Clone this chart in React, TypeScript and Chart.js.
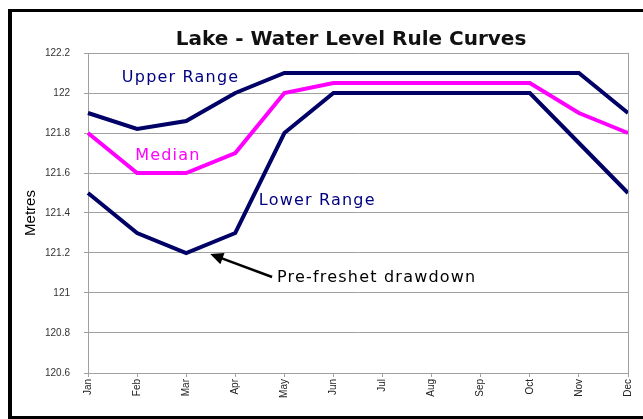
import React, { useEffect, useRef } from "react";
import { Chart, registerables } from "chart.js";

Chart.register(...registerables);

const months = ["Jan", "Feb", "Mar", "Apr", "May", "Jun", "Jul", "Aug", "Sep", "Oct", "Nov", "Dec"];
const upperRange = [121.9, 121.82, 121.86, 122.0, 122.1, 122.1, 122.1, 122.1, 122.1, 122.1, 122.1, 121.9];
const median = [121.8, 121.6, 121.6, 121.7, 122.0, 122.05, 122.05, 122.05, 122.05, 122.05, 121.9, 121.8];
const lowerRange = [121.5, 121.3, 121.2, 121.3, 121.8, 122.0, 122.0, 122.0, 122.0, 122.0, 121.75, 121.5];
const yTicks = [120.6, 120.8, 121.0, 121.2, 121.4, 121.6, 121.8, 122.0, 122.2];

const TITLE = "Lake - Water Level Rule Curves";
const NAVY = "#000066";
const MAGENTA = "#ff00ff";

// annotation anchors in data space: [monthIndex, value]
const labels = [
  { text: "Upper Range", at: [0.69, 122.055], color: "#000080" },
  { text: "Median", at: [0.96, 121.665], color: MAGENTA },
  { text: "Lower Range", at: [3.48, 121.44], color: "#000080" },
  { text: "Pre-freshet drawdown", at: [3.85, 121.055], color: "#000000" },
];
const arrowFrom = [3.75, 121.08];
const arrowTo = [2.49, 121.195];

const decor = {
  id: "decor",
  beforeDraw(chart: any) {
    const { ctx, width, height } = chart;
    ctx.save();
    ctx.fillStyle = "#ffffff";
    ctx.fillRect(0, 0, width, height);
    ctx.fillStyle = "#000000";
    ctx.fillRect(8, 9, width - 8, 3);
    ctx.fillRect(8, 9, 4, height - 9);
    ctx.fillRect(8, 416, width - 8, 3);
    ctx.restore();
  },
  afterDraw(chart: any) {
    const { ctx, chartArea } = chart;
    const xs = chart.scales.x;
    const ys = chart.scales.y;
    ctx.save();
    ctx.strokeStyle = "#a0a0a0";
    ctx.lineWidth = 1;
    ctx.beginPath();
    ctx.moveTo(Math.round(chartArea.right) + 0.5, chartArea.top);
    ctx.lineTo(Math.round(chartArea.right) + 0.5, chartArea.bottom);
    ctx.stroke();

    // title
    ctx.fillStyle = "#111111";
    ctx.font = "bold 20px 'DejaVu Sans'";
    ctx.textAlign = "center";
    ctx.textBaseline = "alphabetic";
    ctx.fillText(TITLE, 351, 45);

    // annotations
    ctx.font = "16px 'DejaVu Sans'";
    ctx.textAlign = "left";
    (ctx as any).letterSpacing = "1.2px";
    for (const l of labels) {
      ctx.fillStyle = l.color;
      ctx.fillText(l.text, xs.getPixelForValue(l.at[0]), ys.getPixelForValue(l.at[1]));
    }
    (ctx as any).letterSpacing = "0px";

    // arrow
    const x1 = xs.getPixelForValue(arrowFrom[0]);
    const y1 = ys.getPixelForValue(arrowFrom[1]);
    const x2 = xs.getPixelForValue(arrowTo[0]);
    const y2 = ys.getPixelForValue(arrowTo[1]);
    const ang = Math.atan2(y2 - y1, x2 - x1);
    const hl = 13;
    const hw = 6;
    ctx.strokeStyle = "#000000";
    ctx.lineWidth = 2.5;
    ctx.beginPath();
    ctx.moveTo(x1, y1);
    ctx.lineTo(x2 - Math.cos(ang) * (hl - 2), y2 - Math.sin(ang) * (hl - 2));
    ctx.stroke();
    ctx.fillStyle = "#000000";
    ctx.beginPath();
    ctx.moveTo(x2, y2);
    const bx = x2 - Math.cos(ang) * hl;
    const by = y2 - Math.sin(ang) * hl;
    ctx.lineTo(bx + Math.sin(ang) * hw, by - Math.cos(ang) * hw);
    ctx.lineTo(bx - Math.sin(ang) * hw, by + Math.cos(ang) * hw);
    ctx.closePath();
    ctx.fill();
    ctx.restore();
  },
};

export default function App() {
  const ref = useRef<HTMLCanvasElement>(null);
  useEffect(() => {
    document.body.style.margin = "0";
    const canvas = ref.current!;
    const chart = new Chart(canvas, {
      type: "line",
      data: {
        labels: months,
        datasets: [
          { label: "Lower Range", data: lowerRange, borderColor: NAVY, backgroundColor: NAVY, borderWidth: 4, pointRadius: 0, tension: 0, fill: false },
          { label: "Median", data: median, borderColor: MAGENTA, backgroundColor: MAGENTA, borderWidth: 4, pointRadius: 0, tension: 0, fill: false },
          { label: "Upper Range", data: upperRange, borderColor: NAVY, backgroundColor: NAVY, borderWidth: 4, pointRadius: 0, tension: 0, fill: false },
        ],
      },
      options: {
        responsive: false,
        animation: false,
        devicePixelRatio: 1,
        layout: { padding: { left: 0, top: 53, right: 15, bottom: 0 } },
        plugins: { legend: { display: false }, title: { display: false }, tooltip: { enabled: false } },
        scales: {
          x: {
            type: "category",
            offset: false,
            grid: { display: true, drawOnChartArea: false, drawTicks: true, tickLength: 4, color: "#a0a0a0" },
            border: { display: true, color: "#a0a0a0", width: 1 },
            ticks: {
              autoSkip: false,
              minRotation: 90,
              maxRotation: 90,
              padding: 2,
              color: "#222222",
              font: { family: "'Liberation Sans', Arial", size: 10 },
            },
            afterFit(scale: any) {
              scale.height = 46;
            },
          },
          y: {
            type: "linear",
            min: 120.6,
            max: 122.2,
            afterBuildTicks(scale: any) {
              scale.ticks = yTicks.map((v) => ({ value: v }));
            },
            ticks: {
              padding: 14,
              color: "#333333",
              font: { family: "'Liberation Sans', Arial", size: 10 },
              callback: (v: any) => String(Number(Number(v).toFixed(1))),
            },
            grid: { color: "#a0a0a0", tickLength: 4, drawTicks: true },
            border: { display: true, color: "#a0a0a0", width: 1 },
            title: {
              display: true,
              text: "Metres",
              color: "#000000",
              font: { family: "'Liberation Sans', Arial", size: 15 },
              padding: { top: 22, bottom: 0 },
            },
            afterFit(scale: any) {
              scale.width = 88;
            },
          },
        },
      },
      plugins: [decor],
    });
    return () => chart.destroy();
  }, []);
  return (
    <div style={{ position: "relative", width: 643, height: 419 }}>
      <canvas ref={ref} width={643} height={419} style={{ display: "block", width: 643, height: 419 }} />
    </div>
  );
}
